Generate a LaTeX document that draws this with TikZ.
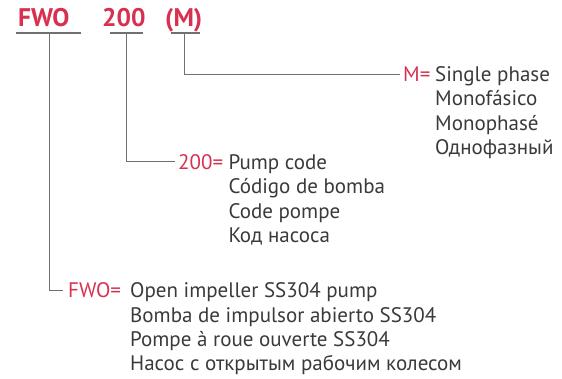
\documentclass[tikz,border=0pt]{standalone}
\usepackage{fontspec}
\setmainfont{PT Sans}
\usetikzlibrary{positioning}
\definecolor{CodeRed}{HTML}{D83050}
\definecolor{TextGray}{HTML}{3A3A3A}
\definecolor{LineGray}{HTML}{707070}

\begin{document}
\begin{tikzpicture}[x=1pt,y=-1pt,
			every node/.style={inner sep=0pt},
			code/.style={font=\fontsize{25.5}{25.5}\selectfont\bfseries,text=CodeRed,anchor=base west},
			key/.style={font=\fontsize{21}{24.4}\selectfont,text=CodeRed,anchor=base west,inner xsep=3pt},
			desc/.style={font=\fontsize{21}{24.4}\selectfont,text=TextGray,align=left,anchor=base west},
			bar/.style={draw=LineGray,line width=1.6pt},
			link/.style={draw=LineGray,line width=1pt}
		]
		\useasboundingbox (0,0) rectangle (562,379);

		\node [code] (fwo) at (18,27) {FWO};
		\node [code] (pump) at (102,27) {200};
		\node [code] (phase) at (165,27) {(M)};

		\path[bar] (16,33) -- coordinate[pos=.508] (fwotap) (81,33);
		\path[bar] (110,33) -- coordinate[pos=.515] (pumptap) (143,33);
		\path[bar] (171,33) -- coordinate[pos=.48] (phasetap) (200,33);

		% base of a multi-line node is its last line
		\node [key] (phasekey) at (400,81.5) {M=};
		\node [desc] (phasetext) at (435,154.7) {
			Single phase \\
			Monofásico \\
			Monophasé \\
			Однофазный
		};

		\node [key] (pumpkey) at (175,169.3) {200=};
		\node [desc] (pumptext) at (228.3,242.5) {
			Pump code \\
			Código de bomba \\
			Code pompe \\
			Код насоса
		};

		\node [key, inner xsep=5pt] (fwokey) at (63,297.7) {FWO=};
		\node [desc] (fwotext) at (130,370.9) {
			Open impeller SS304 pump \\
			Bomba de impulsor abierto SS304 \\
			Pompe à roue ouverte SS304 \\
			Насос с открытым рабочим колесом
		};

		\path[link] (phasetap) |- (phasekey.west);
		\path[link] (pumptap) |- (pumpkey.west);
		\path[link] (fwotap) |- (fwokey.west);
	\end{tikzpicture}
\end{document}
